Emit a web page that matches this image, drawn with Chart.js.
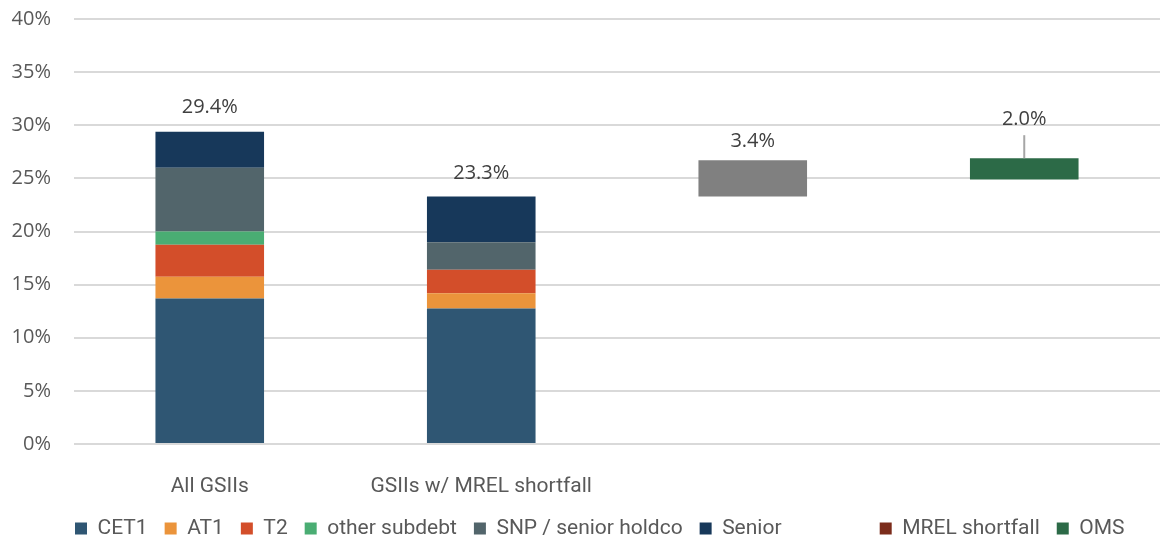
<!DOCTYPE html>
<html>
<head>
<meta charset="utf-8">
<script src="https://cdn.jsdelivr.net/npm/chart.js@4.4.1/dist/chart.umd.min.js"></script>
<style>
  body { margin: 0; background: #fff; }
  #wrap { width: 1160px; height: 540px; }
</style>
</head>
<body>
<div id="wrap"><canvas id="mrelChart"></canvas></div>
<script>
/* ------------------------------
   DATA (% of RWA)
--------------------------------*/

const categories = ["All GSIIs", "GSIIs w/ MREL shortfall", "", ""];

const cet1         = [13.7, 12.75, null, null];
const at1          = [2.05, 1.45, null, null];
const t2           = [3.0, 2.2, null, null];
const otherSubdebt = [1.25, 0, null, null];
const snpHoldco    = [6.0, 2.6, null, null];
const senior       = [3.4, 4.3, null, null];

// floating bars: where they start and how tall they are
const shortfallBase = [null, null, 23.3, null];
const shortfall     = [null, null, 3.4, null];
const omsBase       = [null, null, null, 24.9];
const oms           = [null, null, null, 2.0];

const yTickValues = [0, 5, 10, 15, 20, 25, 30, 35, 40];

/* ------------------------------
   HELPERS
--------------------------------*/

const stackParts = [cet1, at1, t2, otherSubdebt, snpHoldco, senior];

function floating(base, size) {
    return base.map((b, i) => b === null ? null : [b, b + size[i]]);
}

function barTop(i) {
    if (shortfall[i] !== null) return { top: shortfallBase[i] + shortfall[i], value: shortfall[i] };
    if (oms[i] !== null) return { top: omsBase[i] + oms[i], value: oms[i] };
    let sum = 0;
    stackParts.forEach(arr => sum += arr[i] || 0);
    return { top: sum, value: sum };
}

/* ------------------------------
   VALUE LABELS ABOVE THE BARS
--------------------------------*/

const labelGap = [24, 23, 19, 39];
const leaderLine = [false, false, false, true];

const valueLabels = {
    id: "valueLabels",
    afterDatasetsDraw(chart) {
        const { ctx, scales: { x, y } } = chart;
        ctx.save();
        ctx.font = '20px "Open Sans"';
        ctx.fillStyle = "#404040";
        ctx.textAlign = "center";
        ctx.textBaseline = "middle";
        categories.forEach((c, i) => {
            const bar = barTop(i);
            const px = x.getPixelForValue(i);
            const py = y.getPixelForValue(bar.top);
            const ly = py - labelGap[i];
            ctx.fillText(bar.value.toFixed(1) + "%", px, ly);
            if (leaderLine[i]) {
                ctx.strokeStyle = "#a6a6a6";
                ctx.lineWidth = 2;
                ctx.beginPath();
                ctx.moveTo(px, ly + 16);
                ctx.lineTo(px, py);
                ctx.stroke();
            }
        });
        ctx.restore();
    }
};

/* ------------------------------
   CHART
--------------------------------*/

const datasets = [
    { label: "CET1", data: cet1, backgroundColor: "#2F5673" },
    { label: "AT1", data: at1, backgroundColor: "#EB943B" },
    { label: "T2", data: t2, backgroundColor: "#D34E2A" },
    { label: "other subdebt", data: otherSubdebt, backgroundColor: "#4AAD73" },
    { label: "SNP / senior holdco", data: snpHoldco, backgroundColor: "#52656B" },
    { label: "Senior", data: senior, backgroundColor: "#17385A" },
    { label: "MREL shortfall", data: floating(shortfallBase, shortfall), backgroundColor: "#808080", legendColor: "#7B2C1B" },
    { label: "OMS", data: floating(omsBase, oms), backgroundColor: "#2C6A47" }
];

// blank legend slot (no box, no text)
function legendGap(spaces) {
    return { text: " ".repeat(spaces), fillStyle: "rgba(0,0,0,0)", strokeStyle: "rgba(0,0,0,0)", lineWidth: 0, datasetIndex: -1 };
}

new Chart(document.getElementById("mrelChart"), {
    type: "bar",
    data: {
        labels: categories,
        datasets: datasets.map(d => Object.assign({
            categoryPercentage: 1,
            barPercentage: 0.4,
            borderWidth: 0
        }, d))
    },
    options: {
        responsive: true,
        maintainAspectRatio: false,
        animation: false,
        layout: { padding: { left: 0, right: 0, top: 19, bottom: -9 } },
        scales: {
            x: {
                stacked: true,
                grid: { display: false, drawTicks: false },
                border: { display: false },
                ticks: {
                    autoSkip: false,
                    maxRotation: 0,
                    padding: 30,
                    color: "#595959",
                    font: { family: "Roboto", size: 21 }
                },
                afterFit(axis) {
                    axis.height = 57;
                    axis.paddingLeft = 0;
                    axis.paddingRight = 0;
                }
            },
            y: {
                stacked: true,
                min: 0,
                max: 40,
                afterBuildTicks: axis => { axis.ticks = yTickValues.map(v => ({ value: v })); },
                grid: { color: "#d9d9d9", lineWidth: 2, drawTicks: false },
                border: { display: false },
                ticks: {
                    padding: 23,
                    color: "#595959",
                    font: { family: "Open Sans", size: 20 },
                    callback: v => v + "%"
                },
                afterFit(axis) {
                    axis.width = 74;
                    axis.paddingTop = 0;
                    axis.paddingBottom = 0;
                }
            }
        },
        plugins: {
            tooltip: { enabled: false },
            legend: {
                position: "bottom",
                labels: {
                    boxWidth: 12,
                    boxHeight: 12,
                    padding: 17,
                    color: "#595959",
                    font: { family: "Roboto", size: 21 },
                    generateLabels(chart) {
                        const items = [legendGap(0)];
                        chart.data.datasets.forEach((d, i) => {
                            if (d.label === "MREL shortfall") items.push(legendGap(8));
                            items.push({
                                text: d.label,
                                fillStyle: d.legendColor || d.backgroundColor,
                                strokeStyle: d.legendColor || d.backgroundColor,
                                lineWidth: 0,
                                fontColor: "#595959",
                                datasetIndex: i
                            });
                        });
                        return items;
                    }
                }
            }
        }
    },
    plugins: [valueLabels]
});
</script>
</body>
</html>
